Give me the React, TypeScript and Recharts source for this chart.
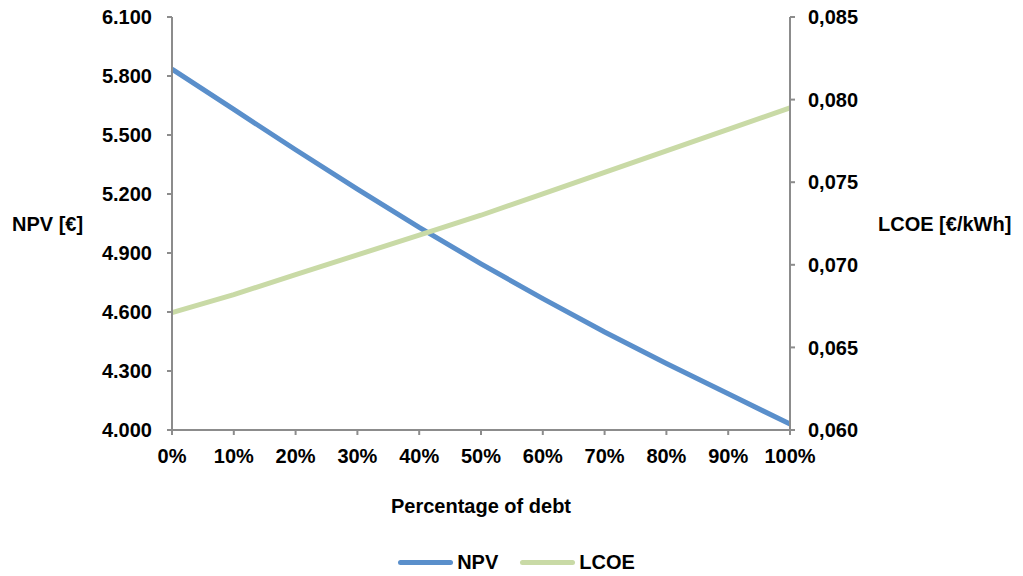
import { LineChart, Line, XAxis, YAxis, Legend } from 'recharts'

const BLUE = '#5A8FCB'
const GREEN = '#C9DAA6'
const AXIS = '#8C8C8C'
const FONT = '"Liberation Sans", Arial, sans-serif'

const debt = [0, 10, 20, 30, 40, 50, 60, 70, 80, 90, 100]
const npv = [5835, 5630, 5425, 5225, 5030, 4845, 4668, 4498, 4338, 4184, 4030]
const lcoe = [0.0671, 0.0682, 0.0694, 0.0706, 0.0718, 0.073, 0.0743, 0.0756, 0.0769, 0.0782, 0.0795]

const npvTicks = [4000, 4300, 4600, 4900, 5200, 5500, 5800, 6100]
const lcoeTicks = [0.06, 0.065, 0.07, 0.075, 0.08, 0.085]

const data = debt.map((d, i) => ({ debt: d, npv: npv[i], lcoe: lcoe[i] }))

const SIZE = 20
const tickStyle = { fill: '#000', fontSize: SIZE, fontWeight: 700, fontFamily: FONT }
const labelStyle = { fill: '#000', fontSize: SIZE, fontWeight: 700, fontFamily: FONT }

const legendItems = [
    { name: 'NPV', color: BLUE },
    { name: 'LCOE', color: GREEN },
]

const LegendContent = () => (
    <div style={{ display: 'flex', justifyContent: 'center', gap: 22, paddingLeft: 10, fontFamily: FONT }}>
        {legendItems.map((item) => (
            <div key={item.name} style={{ display: 'flex', alignItems: 'center', gap: 4 }}>
                <div style={{ width: 55, height: 5, borderRadius: 3, backgroundColor: item.color }} />
                <span style={{ fontSize: SIZE, fontWeight: 700, color: '#000' }}>{item.name}</span>
            </div>
        ))}
    </div>
)

const App = () => (
    <div style={{ position: 'absolute', left: 0, top: 0, background: '#fff' }}>
        <LineChart width={1023} height={576} data={data} margin={{ top: 17, right: 0, bottom: 56, left: 0 }}>
            <XAxis
                dataKey="debt"
                height={90}
                tickFormatter={(v) => `${v}%`}
                tick={tickStyle}
                tickMargin={14}
                tickSize={5}
                stroke={AXIS}
                strokeWidth={2}
                interval={0}
                label={{ value: 'Percentage of debt', position: 'insideTop', offset: 69, ...labelStyle }}
            />
            <YAxis
                yAxisId="npv"
                width={172}
                domain={[4000, 6100]}
                ticks={npvTicks}
                tickFormatter={(v) => (v / 1000).toFixed(3)}
                tick={tickStyle}
                tickMargin={15}
                tickSize={5}
                stroke={AXIS}
                strokeWidth={2}
                label={{ value: 'NPV [€]', position: 'insideLeft', offset: 12, ...labelStyle }}
            />
            <YAxis
                yAxisId="lcoe"
                orientation="right"
                width={233}
                domain={[0.06, 0.085]}
                ticks={lcoeTicks}
                tickFormatter={(v) => v.toFixed(3).replace('.', ',')}
                tick={tickStyle}
                tickMargin={13}
                tickSize={5}
                stroke={AXIS}
                strokeWidth={2}
                label={{ value: 'LCOE [€/kWh]', position: 'insideLeft', offset: 88, ...labelStyle }}
            />
            <Legend
                verticalAlign="middle"
                content={<LegendContent />}
                wrapperStyle={{ top: 551, left: 0, width: 1023 }}
            />
            <Line yAxisId="npv" type="linear" dataKey="npv" name="NPV" stroke={BLUE} strokeWidth={5} dot={false} isAnimationActive={false} />
            <Line yAxisId="lcoe" type="linear" dataKey="lcoe" name="LCOE" stroke={GREEN} strokeWidth={5} dot={false} isAnimationActive={false} />
        </LineChart>
    </div>
)

export default App
